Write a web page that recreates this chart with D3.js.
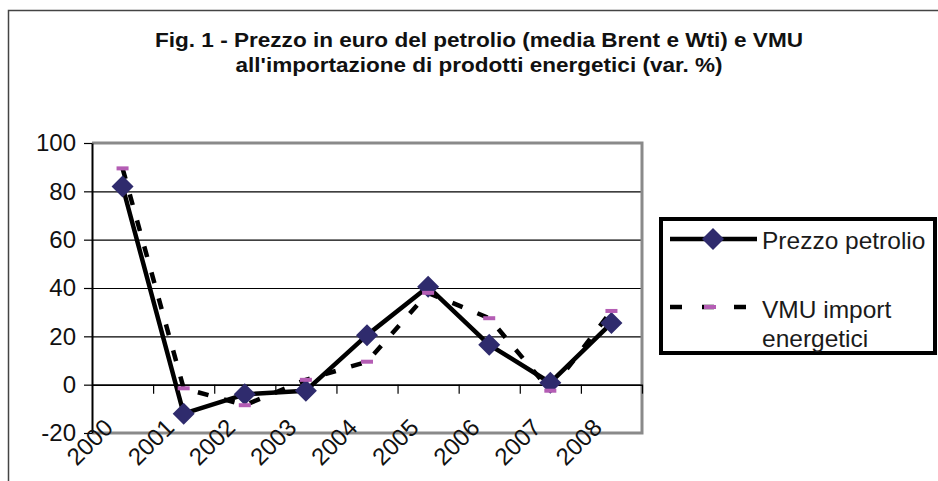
<!DOCTYPE html>
<html>
<head>
<meta charset="utf-8">
<script src="https://cdn.jsdelivr.net/npm/d3@7.9.0/dist/d3.min.js"></script>
<style>
  html, body { margin: 0; padding: 0; background: #fff; }
  svg { display: block; font-family: "Liberation Sans", Arial, sans-serif; }
</style>
</head>
<body>
<svg id="chart" width="938" height="481"></svg>
<script>
// data
const years = ['2000', '2001', '2002', '2003', '2004', '2005', '2006', '2007', '2008'];
const prezzoPetrolio = [82, -12, -4, -2.5, 20.5, 40.5, 16.5, 0.8, 25.5];
const vmuImport = [89.5, -1.5, -8.5, 2, 9.5, 38, 27.5, -2.5, 30.5];
const yTicks = [-20, 0, 20, 40, 60, 80, 100];

const titleLines = [
  'Fig. 1 - Prezzo in euro del petrolio (media Brent e Wti) e VMU',
  "all'importazione di prodotti energetici (var. %)"
];
const legendLabels = ['Prezzo petrolio', 'VMU import', 'energetici'];

const navy = '#2f2b6d';
const pink = '#b45db4';

const svg = d3.select('#chart');

svg.append('rect')
  .attr('width', 938).attr('height', 481)
  .attr('fill', '#fff');

// outer frame (runs off the right / bottom of the picture)
svg.append('rect')
  .attr('x', 8.5).attr('y', 10.5)
  .attr('width', 940).attr('height', 480)
  .attr('fill', 'none')
  .attr('stroke', '#444')
  .attr('stroke-width', 1.5);

// title
const title = svg.append('g')
  .attr('font-weight', 'bold')
  .attr('font-size', '19.5px')
  .attr('fill', '#111')
  .attr('text-anchor', 'middle');
title.append('text')
  .attr('x', 479).attr('y', 47)
  .attr('textLength', 648).attr('lengthAdjust', 'spacingAndGlyphs')
  .text(titleLines[0]);
title.append('text')
  .attr('x', 479).attr('y', 72)
  .attr('textLength', 487).attr('lengthAdjust', 'spacingAndGlyphs')
  .text(titleLines[1]);

// plot area
const plot = { left: 92, right: 642, top: 143, bottom: 433 };

const x = d3.scaleBand()
  .domain(years)
  .range([plot.left, plot.right])
  .padding(0);

const y = d3.scaleLinear()
  .domain([-20, 100])
  .range([plot.bottom, plot.top]);

// gridlines
svg.append('g')
  .attr('transform', `translate(${plot.left},0)`)
  .call(d3.axisLeft(y).tickValues(yTicks.filter(v => v > -20 && v < 100))
    .tickFormat('').tickSize(-(plot.right - plot.left)))
  .call(g => g.select('.domain').remove())
  .selectAll('line')
  .attr('stroke', '#000')
  .attr('stroke-width', 1.2);

// grey frame of the plot area
svg.append('path')
  .attr('d', `M${plot.left},${plot.top}H${plot.right}V${plot.bottom}H${plot.left}`)
  .attr('fill', 'none')
  .attr('stroke', '#8a8a8a')
  .attr('stroke-width', 3);

// x axis at zero, ticks on the category edges
const xEdge = d3.scaleLinear().domain([0, years.length]).range([plot.left, plot.right]);
svg.append('g')
  .attr('transform', `translate(0,${y(0)})`)
  .call(d3.axisBottom(xEdge).tickValues(d3.range(1, years.length + 1))
    .tickFormat('').tickSize(9).tickSizeOuter(0))
  .call(g => g.select('.domain').attr('stroke', '#000').attr('stroke-width', 1.5))
  .selectAll('line').attr('stroke', '#000').attr('stroke-width', 1.2);

// y axis
const yAxis = svg.append('g')
  .attr('transform', `translate(${plot.left},0)`)
  .call(d3.axisLeft(y).tickValues(yTicks).tickFormat(d => String(d))
    .tickSize(8).tickSizeOuter(0).tickPadding(8));
yAxis.select('.domain').attr('stroke', '#000').attr('stroke-width', 2);
yAxis.selectAll('line').attr('stroke', '#000').attr('stroke-width', 1.2);
yAxis.selectAll('text')
  .attr('fill', '#111')
  .attr('font-size', '24px')
  .attr('font-family', '"Liberation Sans", Arial, sans-serif');

// rotated year labels
svg.append('g')
  .selectAll('text')
  .data(years)
  .join('text')
  .attr('transform', d => `translate(${x(d) + x.bandwidth() / 2 - 8},429) rotate(-45)`)
  .attr('text-anchor', 'end')
  .attr('font-size', '24px')
  .attr('fill', '#111')
  .text(d => d);

// series
const rowsA = years.map((yr, i) => ({ yr, v: prezzoPetrolio[i] }));
const rowsB = years.map((yr, i) => ({ yr, v: vmuImport[i] }));
const line = d3.line()
  .x(d => x(d.yr) + x.bandwidth() / 2)
  .y(d => y(d.v));

svg.append('path')
  .datum(rowsB)
  .attr('d', line)
  .attr('fill', 'none')
  .attr('stroke', '#000')
  .attr('stroke-width', 4.5)
  .attr('stroke-dasharray', '11,16');

svg.append('path')
  .datum(rowsA)
  .attr('d', line)
  .attr('fill', 'none')
  .attr('stroke', '#000')
  .attr('stroke-width', 4.5)
  .attr('stroke-linejoin', 'round');

const diamond = 'M0,-11L11,0L0,11L-11,0Z';

svg.append('g')
  .selectAll('path')
  .data(rowsA)
  .join('path')
  .attr('d', diamond)
  .attr('transform', d => `translate(${x(d.yr) + x.bandwidth() / 2},${y(d.v)})`)
  .attr('fill', navy);

svg.append('g')
  .selectAll('rect')
  .data(rowsB)
  .join('rect')
  .attr('x', d => x(d.yr) + x.bandwidth() / 2 - 6)
  .attr('y', d => y(d.v) - 2)
  .attr('width', 12)
  .attr('height', 4)
  .attr('fill', pink);

// legend
const legend = svg.append('g');
legend.append('rect')
  .attr('x', 661).attr('y', 219)
  .attr('width', 274).attr('height', 134)
  .attr('fill', '#fff')
  .attr('stroke', '#000')
  .attr('stroke-width', 4);

legend.append('line')
  .attr('x1', 670).attr('x2', 757)
  .attr('y1', 239).attr('y2', 239)
  .attr('stroke', '#000').attr('stroke-width', 4.5);
legend.append('path')
  .attr('d', diamond)
  .attr('transform', 'translate(713,239)')
  .attr('fill', navy);

legend.append('line')
  .attr('x1', 670).attr('x2', 746)
  .attr('y1', 307).attr('y2', 307)
  .attr('stroke', '#000').attr('stroke-width', 4.5)
  .attr('stroke-dasharray', '12,20');
legend.append('rect')
  .attr('x', 704).attr('y', 305)
  .attr('width', 12).attr('height', 4)
  .attr('fill', pink);

legend.selectAll('text')
  .data(legendLabels)
  .join('text')
  .attr('x', 762)
  .attr('y', (d, i) => [249, 318, 347][i])
  .attr('font-size', '24.5px')
  .attr('fill', '#1a1a1a')
  .text(d => d);
</script>
</body>
</html>
